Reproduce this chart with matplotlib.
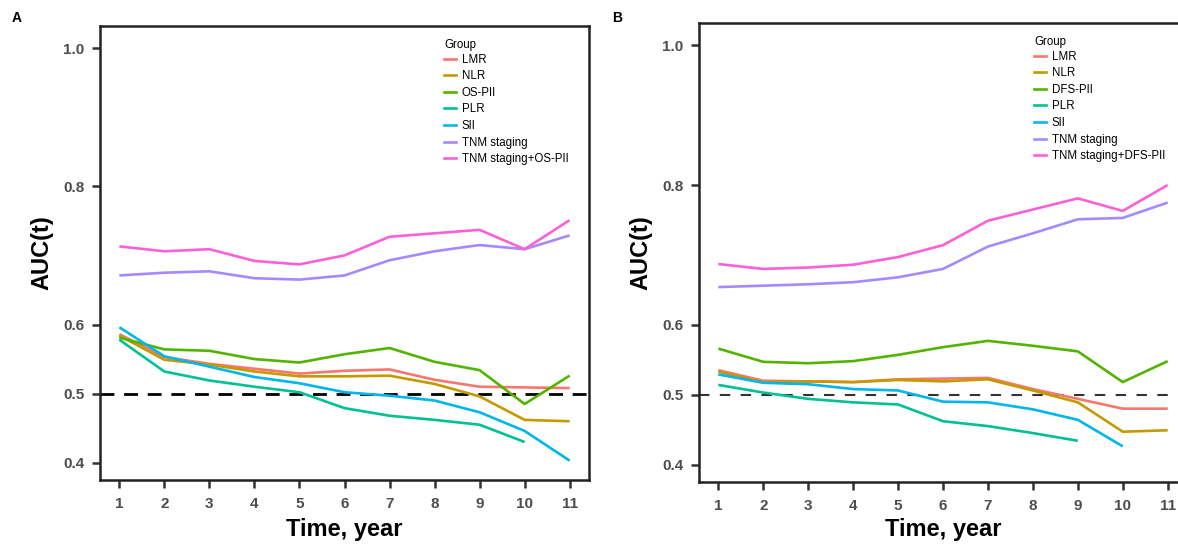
import matplotlib
matplotlib.use("Agg")
import matplotlib.pyplot as plt
from matplotlib.lines import Line2D

plt.rcParams['font.family'] = ['Liberation Sans', 'DejaVu Sans']

years = list(range(1, 12))

# Panel A (overall survival)
a_LMR = [0.586, 0.553, 0.543, 0.536, 0.529, 0.533, 0.535, 0.520, 0.510, 0.509, 0.508]
a_NLR = [0.584, 0.549, 0.542, 0.532, 0.525, 0.525, 0.526, 0.514, 0.496, 0.462, 0.460]
a_OSPII = [0.581, 0.564, 0.562, 0.550, 0.545, 0.557, 0.566, 0.546, 0.534, 0.485, 0.526]
a_PLR = [0.578, 0.532, 0.519, 0.510, 0.502, 0.479, 0.468, 0.462, 0.455, 0.430, None]
a_SII = [0.596, 0.554, 0.539, 0.524, 0.515, 0.502, 0.497, 0.490, 0.473, 0.446, 0.403]
a_TNM = [0.671, 0.675, 0.677, 0.667, 0.665, 0.671, 0.693, 0.706, 0.715, 0.709, 0.729]
a_TNM_PII = [0.713, 0.706, 0.709, 0.692, 0.687, 0.700, 0.727, 0.732, 0.737, 0.709, 0.751]

# Panel B (disease-free survival)
b_LMR = [0.535, 0.520, 0.519, 0.518, 0.522, 0.523, 0.524, 0.508, 0.494, 0.480, 0.480]
b_NLR = [0.533, 0.518, 0.519, 0.518, 0.521, 0.519, 0.522, 0.506, 0.489, 0.447, 0.449]
b_DFSPII = [0.566, 0.547, 0.545, 0.548, 0.557, 0.568, 0.577, 0.570, 0.562, 0.518, 0.548]
b_PLR = [0.514, 0.503, 0.494, 0.489, 0.486, 0.462, 0.455, 0.445, 0.434, None, None]
b_SII = [0.529, 0.517, 0.515, 0.508, 0.506, 0.490, 0.489, 0.479, 0.464, 0.426, None]
b_TNM = [0.654, 0.656, 0.658, 0.661, 0.668, 0.680, 0.712, 0.731, 0.751, 0.753, 0.775]
b_TNM_PII = [0.687, 0.680, 0.682, 0.686, 0.697, 0.714, 0.749, 0.765, 0.781, 0.763, 0.800]

labels_a = ["LMR", "NLR", "OS-PII", "PLR", "SII", "TNM staging", "TNM staging+OS-PII"]
labels_b = ["LMR", "NLR", "DFS-PII", "PLR", "SII", "TNM staging", "TNM staging+DFS-PII"]
series_a = [a_LMR, a_NLR, a_OSPII, a_PLR, a_SII, a_TNM, a_TNM_PII]
series_b = [b_LMR, b_NLR, b_DFSPII, b_PLR, b_SII, b_TNM, b_TNM_PII]
colors = ["#F8766D", "#C49A00", "#53B400", "#00C094", "#00B6EB", "#A58AFF", "#FB61D7"]

yticks = [0.4, 0.5, 0.6, 0.8, 1.0]
ytick_labels = ["0.4", "0.5", "0.6", "0.8", "1.0"]

fig = plt.figure(figsize=(11.78, 5.44), dpi=100)

def draw(ax, series, labels, dash_color, dash_lw, dashes, leg_x, xpad):
    for vals, lab, col in zip(series, labels, colors):
        xs = [x for x, v in zip(years, vals) if v is not None]
        ys = [v for v in vals if v is not None]
        ax.plot(xs, ys, color=col, lw=1.9, label=lab, solid_capstyle='butt')
    ax.axhline(0.5, color=dash_color, lw=dash_lw, linestyle=(0, dashes), zorder=0.5)
    ax.set_xlim(0.57, 11.43)
    ax.set_ylim(0.375, 1.032)
    ax.set_xticks(years)
    ax.set_xticklabels([str(y) for y in years])
    ax.set_yticks(yticks)
    ax.set_yticklabels(ytick_labels)
    for s in ax.spines.values():
        s.set_linewidth(1.8)
        s.set_color("#222222")
    ax.tick_params(axis='both', direction='out', length=6, width=1.8, color="#333333",
                   labelsize=11, labelcolor="#4D4D4D", pad=5)
    ax.tick_params(axis='x', pad=6)
    for t in ax.get_xticklabels() + ax.get_yticklabels():
        t.set_fontweight('bold')
    ax.set_xlabel("Time, year", fontsize=17, fontweight='bold', labelpad=xpad)
    ax.set_ylabel("AUC(t)", fontsize=17, fontweight='bold', labelpad=7)
    handles = [Line2D([0], [0], color=c, lw=1.9) for c in colors]
    leg = ax.legend(handles, labels, title="Group", loc='upper left',
                    bbox_to_anchor=(leg_x, 0.982), frameon=False, fontsize=8.3,
                    title_fontsize=8.3, handlelength=1.0, handletextpad=0.5,
                    labelspacing=0.4, borderaxespad=0)
    leg._legend_box.align = "left"
    leg._legend_box.sep = 2

axA = fig.add_axes([100/1178, 1-480/544, 489/1178, 454/544])
draw(axA, series_a, labels_a, "black", 2.0, (5, 3.5), 0.695, 5)
axB = fig.add_axes([699/1178, 1-482/544, 488/1178, 459/544])
draw(axB, series_b, labels_b, "#333333", 1.5, (5, 5), 0.678, 3.5)

fig.text(12/1178, 1-18/544, "A", fontsize=10, fontweight='bold', va='center', ha='left')
fig.text(612/1178, 1-18/544, "B", fontsize=10, fontweight='bold', va='center', ha='left')

fig.savefig("out.png", dpi=100)
